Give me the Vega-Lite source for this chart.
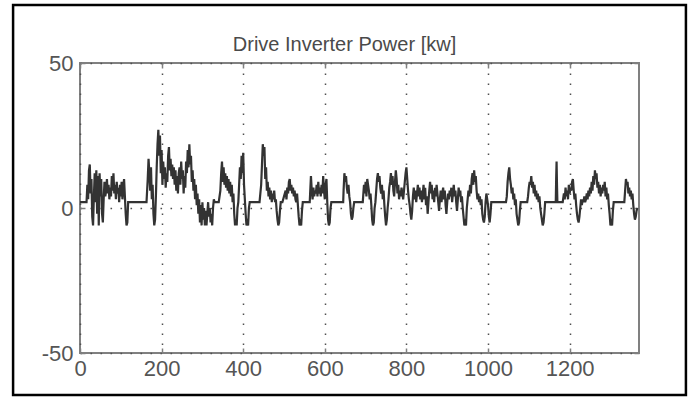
{
  "$schema": "https://vega.github.io/schema/vega-lite/v6.json",
  "autosize": "none",
  "width": 559,
  "height": 290,
  "padding": {"left": 80, "top": 63, "right": 52, "bottom": 47},
  "background": "white",
  "config": {
    "view": {"stroke": "#808080", "strokeWidth": 2},
    "axis": {"labelFont": "Liberation Sans", "labelFontSize": 22, "labelColor": "#555555", "grid": true, "gridColor": "#505050", "gridDash": [1.6, 8.4], "gridWidth": 1.5, "domain": false, "tickColor": "#808080", "tickSize": -5, "tickWidth": 1.5, "title": null}
  },
  "resolve": {"axis": {"x": "independent", "y": "independent"}},
  "data": {"values": [
    {"t":0,"p":2},{"t":16,"p":2},{"t":18,"p":8},{"t":20,"p":3},{"t":22,"p":13},{"t":24,"p":15},{"t":26,"p":5},{"t":28,"p":10},{"t":30,"p":-3},{"t":32,"p":-6},{"t":34,"p":4},{"t":36,"p":12},{"t":38,"p":2},{"t":40,"p":13},{"t":42,"p":-2},{"t":44,"p":11},{"t":46,"p":-6},{"t":48,"p":12},{"t":50,"p":4},{"t":52,"p":10},{"t":54,"p":-2},{"t":56,"p":-5},{"t":58,"p":3},{"t":60,"p":9},{"t":62,"p":4},{"t":64,"p":6},{"t":66,"p":10},{"t":68,"p":5},{"t":70,"p":8},{"t":72,"p":3},{"t":74,"p":7},{"t":76,"p":4},{"t":78,"p":11},{"t":80,"p":6},{"t":82,"p":12},{"t":84,"p":5},{"t":86,"p":8},{"t":88,"p":3},{"t":90,"p":9},{"t":92,"p":5},{"t":94,"p":7},{"t":96,"p":2},{"t":98,"p":8},{"t":100,"p":4},{"t":102,"p":9},{"t":104,"p":3},{"t":106,"p":7},{"t":108,"p":10},{"t":110,"p":4},{"t":112,"p":-2},{"t":114,"p":-6},{"t":116,"p":-5},{"t":118,"p":2},
    {"t":163,"p":2},{"t":166,"p":10},{"t":168,"p":17},{"t":170,"p":12},{"t":172,"p":6},{"t":174,"p":14},{"t":176,"p":3},{"t":178,"p":8},{"t":180,"p":-2},{"t":182,"p":-6},{"t":184,"p":-4},{"t":186,"p":4},{"t":188,"p":14},{"t":190,"p":22},{"t":192,"p":27},{"t":194,"p":18},{"t":196,"p":25},{"t":198,"p":12},{"t":200,"p":20},{"t":202,"p":8},{"t":204,"p":16},{"t":206,"p":10},{"t":208,"p":14},{"t":210,"p":7},{"t":212,"p":12},{"t":214,"p":9},{"t":216,"p":18},{"t":218,"p":21},{"t":220,"p":13},{"t":222,"p":17},{"t":224,"p":11},{"t":226,"p":15},{"t":228,"p":10},{"t":230,"p":14},{"t":232,"p":8},{"t":234,"p":13},{"t":236,"p":6},{"t":238,"p":11},{"t":240,"p":5},{"t":242,"p":12},{"t":244,"p":14},{"t":246,"p":8},{"t":248,"p":16},{"t":250,"p":10},{"t":252,"p":13},{"t":254,"p":5},{"t":256,"p":11},{"t":258,"p":7},{"t":260,"p":16},{"t":262,"p":12},{"t":264,"p":20},{"t":266,"p":14},{"t":268,"p":22},{"t":270,"p":15},{"t":272,"p":18},{"t":274,"p":9},{"t":276,"p":13},{"t":278,"p":6},{"t":280,"p":10},{"t":282,"p":3},{"t":284,"p":8},{"t":286,"p":1},{"t":288,"p":5},{"t":290,"p":-2},{"t":292,"p":3},{"t":294,"p":-5},{"t":296,"p":1},{"t":298,"p":-6},{"t":300,"p":2},{"t":302,"p":-4},{"t":304,"p":0},{"t":306,"p":-6},{"t":308,"p":-1},{"t":310,"p":-6},{"t":312,"p":-2},{"t":314,"p":2},{"t":316,"p":-3},{"t":318,"p":0},{"t":320,"p":-5},{"t":322,"p":-2},{"t":324,"p":-6},{"t":326,"p":0},{"t":328,"p":3},{"t":330,"p":2},
    {"t":340,"p":2},{"t":344,"p":6},{"t":346,"p":12},{"t":348,"p":16},{"t":350,"p":9},{"t":352,"p":14},{"t":354,"p":8},{"t":356,"p":12},{"t":358,"p":7},{"t":360,"p":11},{"t":362,"p":6},{"t":364,"p":10},{"t":366,"p":5},{"t":368,"p":9},{"t":370,"p":4},{"t":372,"p":8},{"t":374,"p":2},{"t":376,"p":5},{"t":378,"p":-2},{"t":380,"p":-6},{"t":382,"p":-4},{"t":384,"p":-6},{"t":386,"p":0},{"t":388,"p":2},{"t":390,"p":8},{"t":392,"p":14},{"t":394,"p":10},{"t":396,"p":18},{"t":398,"p":12},{"t":400,"p":19},{"t":402,"p":8},{"t":404,"p":3},{"t":406,"p":-2},{"t":408,"p":-6},{"t":410,"p":-5},{"t":412,"p":-6},{"t":414,"p":0},{"t":416,"p":2},
    {"t":440,"p":2},{"t":444,"p":8},{"t":446,"p":15},{"t":448,"p":22},{"t":450,"p":18},{"t":452,"p":21},{"t":454,"p":10},{"t":456,"p":14},{"t":458,"p":6},{"t":460,"p":9},{"t":462,"p":4},{"t":464,"p":7},{"t":466,"p":3},{"t":468,"p":6},{"t":470,"p":2},{"t":472,"p":5},{"t":474,"p":3},{"t":476,"p":6},{"t":478,"p":2},{"t":480,"p":3},{"t":482,"p":-1},{"t":484,"p":-4},{"t":486,"p":-6},{"t":488,"p":-5},{"t":490,"p":-1},{"t":492,"p":2},{"t":496,"p":2},{"t":500,"p":4},{"t":504,"p":6},{"t":506,"p":3},{"t":508,"p":7},{"t":510,"p":5},{"t":512,"p":9},{"t":514,"p":10},{"t":516,"p":6},{"t":518,"p":8},{"t":520,"p":5},{"t":522,"p":7},{"t":524,"p":4},{"t":526,"p":6},{"t":528,"p":3},{"t":530,"p":2},{"t":532,"p":5},{"t":534,"p":1},{"t":536,"p":-3},{"t":538,"p":-6},{"t":540,"p":-5},{"t":542,"p":-6},{"t":544,"p":-1},{"t":546,"p":2},
    {"t":563,"p":2},{"t":564,"p":5},{"t":566,"p":11},{"t":568,"p":6},{"t":570,"p":3},{"t":572,"p":7},{"t":574,"p":4},{"t":576,"p":6},{"t":578,"p":5},{"t":580,"p":8},{"t":582,"p":4},{"t":584,"p":9},{"t":586,"p":5},{"t":588,"p":7},{"t":590,"p":4},{"t":592,"p":8},{"t":594,"p":5},{"t":596,"p":11},{"t":598,"p":6},{"t":600,"p":3},{"t":602,"p":8},{"t":604,"p":10},{"t":606,"p":2},{"t":608,"p":-4},{"t":610,"p":-6},{"t":612,"p":-5},{"t":614,"p":0},{"t":616,"p":2},
    {"t":645,"p":2},{"t":646,"p":6},{"t":648,"p":12},{"t":650,"p":9},{"t":652,"p":11},{"t":654,"p":7},{"t":656,"p":5},{"t":658,"p":8},{"t":660,"p":4},{"t":662,"p":2},{"t":664,"p":-2},{"t":666,"p":-4},{"t":668,"p":-3},{"t":670,"p":0},{"t":672,"p":2},
    {"t":693,"p":2},{"t":694,"p":4},{"t":696,"p":8},{"t":698,"p":5},{"t":700,"p":9},{"t":702,"p":4},{"t":704,"p":10},{"t":706,"p":8},{"t":708,"p":6},{"t":710,"p":3},{"t":712,"p":5},{"t":714,"p":1},{"t":716,"p":-4},{"t":718,"p":-6},{"t":720,"p":-5},{"t":722,"p":0},{"t":724,"p":2},{"t":726,"p":6},{"t":728,"p":10},{"t":730,"p":12},{"t":732,"p":9},{"t":734,"p":11},{"t":736,"p":7},{"t":738,"p":5},{"t":740,"p":8},{"t":742,"p":3},{"t":744,"p":6},{"t":746,"p":1},{"t":748,"p":-3},{"t":750,"p":-6},{"t":752,"p":-4},{"t":754,"p":0},{"t":756,"p":3},{"t":758,"p":7},{"t":760,"p":9},{"t":762,"p":12},{"t":764,"p":8},{"t":766,"p":11},{"t":768,"p":6},{"t":770,"p":4},{"t":772,"p":9},{"t":774,"p":13},{"t":776,"p":10},{"t":778,"p":5},{"t":780,"p":8},{"t":782,"p":3},{"t":784,"p":6},{"t":786,"p":4},{"t":788,"p":7},{"t":790,"p":5},{"t":792,"p":3},{"t":794,"p":6},{"t":796,"p":9},{"t":798,"p":12},{"t":800,"p":14},{"t":802,"p":10},{"t":804,"p":6},{"t":806,"p":3},{"t":808,"p":1},{"t":810,"p":-2},{"t":812,"p":-4},{"t":814,"p":-1},{"t":816,"p":4},{"t":818,"p":7},{"t":820,"p":3},{"t":822,"p":6},{"t":824,"p":2},{"t":826,"p":5},{"t":828,"p":8},{"t":830,"p":4},{"t":832,"p":7},{"t":834,"p":3},{"t":836,"p":6},{"t":838,"p":2},{"t":840,"p":5},{"t":842,"p":8},{"t":844,"p":3},{"t":846,"p":7},{"t":848,"p":1},{"t":850,"p":4},{"t":852,"p":-2},{"t":854,"p":2},{"t":856,"p":6},{"t":858,"p":9},{"t":860,"p":5},{"t":862,"p":8},{"t":864,"p":3},{"t":866,"p":6},{"t":868,"p":2},{"t":870,"p":7},{"t":872,"p":4},{"t":874,"p":8},{"t":876,"p":5},{"t":878,"p":2},{"t":880,"p":-1},{"t":882,"p":3},{"t":884,"p":6},{"t":886,"p":2},{"t":888,"p":5},{"t":890,"p":7},{"t":892,"p":3},{"t":894,"p":6},{"t":896,"p":1},{"t":898,"p":-2},{"t":900,"p":2},{"t":902,"p":5},{"t":904,"p":3},{"t":906,"p":6},{"t":908,"p":4},{"t":910,"p":7},{"t":912,"p":2},{"t":914,"p":5},{"t":916,"p":8},{"t":918,"p":4},{"t":920,"p":6},{"t":922,"p":2},{"t":924,"p":-1},{"t":926,"p":3},{"t":928,"p":7},{"t":930,"p":4},{"t":932,"p":6},{"t":934,"p":2},{"t":936,"p":4},{"t":938,"p":0},{"t":940,"p":-3},{"t":942,"p":-6},{"t":944,"p":-5},{"t":946,"p":-6},{"t":948,"p":0},{"t":950,"p":3},{"t":952,"p":6},{"t":954,"p":4},{"t":956,"p":8},{"t":958,"p":5},{"t":960,"p":10},{"t":962,"p":12},{"t":964,"p":8},{"t":966,"p":13},{"t":968,"p":9},{"t":970,"p":11},{"t":972,"p":6},{"t":974,"p":3},{"t":976,"p":5},{"t":978,"p":2},{"t":980,"p":4},{"t":982,"p":1},{"t":984,"p":3},{"t":986,"p":-2},{"t":988,"p":-4},{"t":990,"p":-5},{"t":992,"p":-3},{"t":994,"p":2},{"t":996,"p":5},{"t":998,"p":3},{"t":1000,"p":1},{"t":1002,"p":-3},{"t":1004,"p":-5},{"t":1006,"p":-2},{"t":1008,"p":2},
    {"t":1044,"p":2},{"t":1046,"p":4},{"t":1048,"p":9},{"t":1050,"p":12},{"t":1052,"p":14},{"t":1054,"p":10},{"t":1056,"p":8},{"t":1058,"p":5},{"t":1060,"p":7},{"t":1062,"p":3},{"t":1064,"p":5},{"t":1066,"p":1},{"t":1068,"p":3},{"t":1070,"p":-2},{"t":1072,"p":-4},{"t":1074,"p":-6},{"t":1076,"p":-5},{"t":1078,"p":-1},{"t":1080,"p":2},{"t":1096,"p":2},{"t":1098,"p":4},{"t":1100,"p":7},{"t":1102,"p":9},{"t":1104,"p":8},{"t":1106,"p":11},{"t":1108,"p":7},{"t":1110,"p":9},{"t":1112,"p":5},{"t":1114,"p":8},{"t":1116,"p":4},{"t":1118,"p":6},{"t":1120,"p":3},{"t":1122,"p":5},{"t":1124,"p":2},{"t":1126,"p":4},{"t":1128,"p":0},{"t":1130,"p":-2},{"t":1132,"p":-4},{"t":1134,"p":-6},{"t":1136,"p":-5},{"t":1138,"p":-2},{"t":1140,"p":2},
    {"t":1166,"p":2},{"t":1167,"p":10},{"t":1168,"p":16},{"t":1169,"p":8},{"t":1170,"p":2},{"t":1183,"p":2},{"t":1186,"p":5},{"t":1188,"p":3},{"t":1190,"p":7},{"t":1192,"p":4},{"t":1194,"p":6},{"t":1196,"p":3},{"t":1198,"p":8},{"t":1200,"p":5},{"t":1202,"p":7},{"t":1204,"p":6},{"t":1206,"p":9},{"t":1208,"p":10},{"t":1210,"p":6},{"t":1212,"p":3},{"t":1214,"p":5},{"t":1216,"p":1},{"t":1218,"p":-2},{"t":1220,"p":-4},{"t":1222,"p":-5},{"t":1224,"p":-3},{"t":1226,"p":0},{"t":1228,"p":3},{"t":1230,"p":1},{"t":1232,"p":3},{"t":1234,"p":2},{"t":1236,"p":4},{"t":1238,"p":2},{"t":1240,"p":3},{"t":1242,"p":5},{"t":1244,"p":3},{"t":1246,"p":6},{"t":1248,"p":4},{"t":1250,"p":7},{"t":1252,"p":5},{"t":1254,"p":9},{"t":1256,"p":6},{"t":1258,"p":11},{"t":1260,"p":8},{"t":1262,"p":13},{"t":1264,"p":10},{"t":1266,"p":12},{"t":1268,"p":7},{"t":1270,"p":9},{"t":1272,"p":5},{"t":1274,"p":8},{"t":1276,"p":4},{"t":1278,"p":7},{"t":1280,"p":5},{"t":1282,"p":8},{"t":1284,"p":6},{"t":1286,"p":9},{"t":1288,"p":4},{"t":1290,"p":7},{"t":1292,"p":3},{"t":1294,"p":5},{"t":1296,"p":1},{"t":1298,"p":-2},{"t":1300,"p":-6},{"t":1302,"p":-5},{"t":1304,"p":-6},{"t":1306,"p":-1},{"t":1308,"p":2},
    {"t":1334,"p":2},{"t":1336,"p":6},{"t":1338,"p":10},{"t":1340,"p":8},{"t":1342,"p":9},{"t":1344,"p":5},{"t":1346,"p":7},{"t":1348,"p":4},{"t":1350,"p":6},{"t":1352,"p":3},{"t":1354,"p":5},{"t":1356,"p":1},{"t":1358,"p":-2},{"t":1360,"p":-4},{"t":1362,"p":-3},{"t":1364,"p":-1},{"t":1366,"p":0}
  ]},
  "layer": [
    {
      "mark": {"type": "line", "color": "#333333", "strokeWidth": 2.2, "strokeJoin": "miter"},
      "encoding": {
        "x": {"field": "t", "type": "quantitative", "scale": {"domain": [0, 1370], "nice": false, "zero": false}, "axis": {"values": [0, 200, 400, 600, 800, 1000, 1200], "format": "d", "labelPadding": 10, "labelFlush": false}},
        "y": {"field": "p", "type": "quantitative", "scale": {"domain": [-50, 50], "nice": false}, "axis": {"values": [-50, 0, 50], "labelExpr": "datum.value + ''", "labelPadding": 12}}
      }
    },
    {
      "data": {"values": [{}]},
      "mark": {"type": "rect", "fill": null, "fillOpacity": 0, "stroke": "#000000", "strokeWidth": 2.5},
      "encoding": {
        "x": {"datum": -164, "type": "quantitative", "axis": {"orient": "top", "values": [0, 200, 400, 600, 800, 1000, 1200], "labels": false, "grid": false, "title": "Drive Inverter Power [kw]", "titleFont": "Liberation Sans", "titleFontSize": 20, "titleFontWeight": "normal", "titleColor": "#4a4a4a", "titleBaseline": "alphabetic", "titleAlign": "center", "titleAnchor": null, "titleX": 264, "titleY": -13}},
        "x2": {"datum": 1485},
        "y": {"datum": 70, "type": "quantitative", "axis": {"orient": "right", "values": [-50, 0, 50], "labels": false, "grid": false}},
        "y2": {"datum": -64.5}
      }
    }
  ]
}
